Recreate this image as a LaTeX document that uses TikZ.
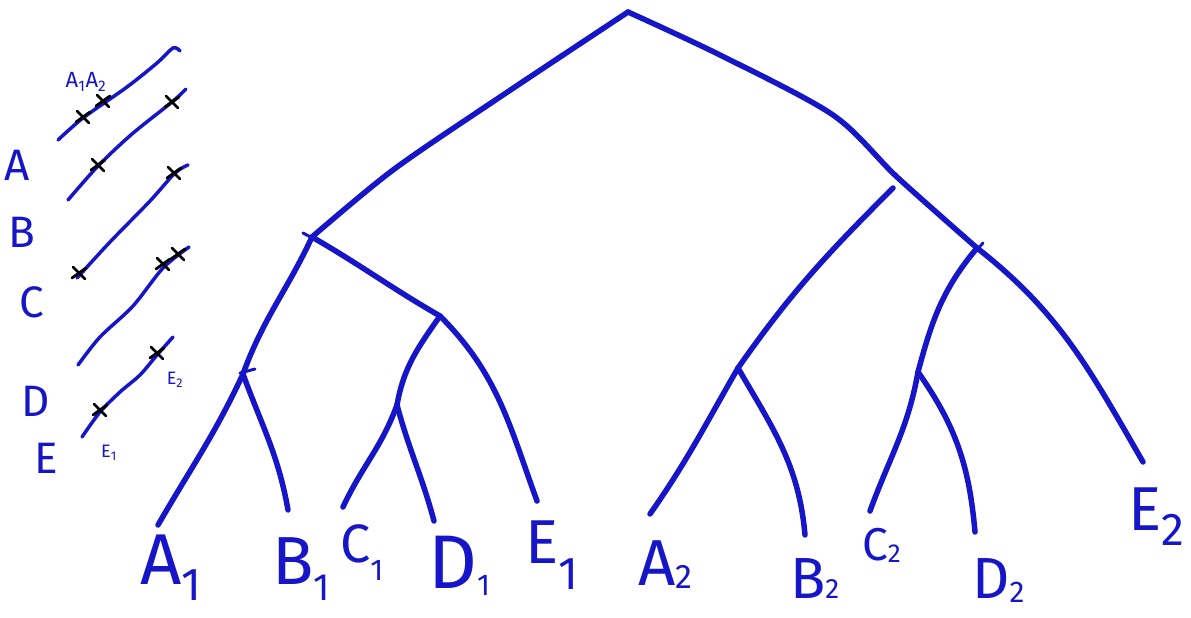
\documentclass[tikz,border=0pt]{standalone}
\usepackage{fontspec}
\setmainfont{Fira Sans}
\definecolor{pen}{RGB}{22,22,200}
\begin{document}
\begin{tikzpicture}[x=1pt, y=-1pt, line cap=round, line join=round,
    branch/.style={draw=pen, line width=5.5pt},
    strand/.style={draw=pen, line width=3.5pt},
    cross/.style={draw=black, line width=2.8pt},
    leaf/.style={text=pen, anchor=base west, inner sep=0pt},
    locus/.style={text=pen, inner sep=0pt, font=\fontsize{44}{44}\selectfont},
    tag/.style={text=pen, inner sep=0pt, font=\fontsize{22}{22}\selectfont}]
    \useasboundingbox (0,0) rectangle (1191,618);

    % Left: the five chromosome strands with their cut marks
    \draw[strand] plot[smooth] coordinates {(58,140) (83,118) (127,87) (157,63) (173,48) (180,51)};
    \draw[strand] plot[smooth] coordinates {(68,200) (98,166) (132,134) (172,102) (186,89)};
    \draw[strand] plot[smooth] coordinates {(77,278) (110,242) (150,201) (175,173) (188,165)};
    \draw[strand] plot[smooth] coordinates {(78,365) (100,337) (133,306) (163,268) (189,247)};
    \draw[strand] plot[smooth] coordinates {(82,437) (100,412) (120,392) (140,375) (157,355) (173,337)};
    \foreach \x/\y in {83/117, 103/101, 98/165, 172/102, 79/273, 174/173,
        163/264, 178/254, 100/410, 157/353} {
        \draw[cross] (\x-6,\y-6) -- (\x+6,\y+6) (\x-7,\y+5) -- (\x+7,\y-5);
    }
    \node[tag] (cutA) at (86,82) {A\textsubscript{1}A\textsubscript{2}};
    \node[tag, font=\fontsize{18}{18}\selectfont] (cutE2) at (175,380) {E\textsubscript{2}};
    \node[tag, font=\fontsize{18}{18}\selectfont] (cutE1) at (109,453) {E\textsubscript{1}};
    \foreach \n/\x/\y in {A/17/165, B/22/232, C/32/302, D/36/401, E/46/458} {
        \node[locus] (loc\n) at (\x,\y) {\n};
    }

    % Tree: branching points
    \coordinate (root) at (628,12);
    \coordinate (L) at (312,237);
    \coordinate (LL) at (243,374);
    \coordinate (LR) at (440,316);
    \coordinate (LRL) at (397,405);
    \coordinate (R) at (977,248);
    \coordinate (RL) at (918,372);
    \coordinate (Mtop) at (893,188);
    \coordinate (M) at (738,368);

    % Tree: leaf ends
    \foreach \n/\x/\y in {A1/158/525, B1/288/510, C1/343/507, D1/434/521, E1/537/501,
        A2/650/514, B2/805/535, C2/870/511, D2/975/532, E2/1143/462} {
        \coordinate (end\n) at (\x,\y);
    }

    % Tree: branches
    \draw[branch] plot[smooth] coordinates {(root) (500,97) (393,170) (L)};
    \draw[branch] plot[smooth] coordinates {(root) (720,55) (833,115) (897,177) (R)};
    \draw[branch] (L) to[out=-115,in=70] (LL);
    \draw[branch] (L) to[out=-30,in=150] (LR);
    \draw[branch] (LL) to[out=-115,in=60] (endA1);
    \draw[branch] (LL) to[out=-70,in=100] (endB1);
    \draw[branch] (LR) to[out=-125,in=80] (LRL);
    \draw[branch] (LR) to[out=-45,in=110] (endE1);
    \draw[branch] (LRL) to[out=-110,in=65] (endC1);
    \draw[branch] (LRL) to[out=-75,in=105] (endD1);
    \draw[branch] (Mtop) to[out=-135,in=55] (M);
    \draw[branch] (M) to[out=-120,in=55] (endA2);
    \draw[branch] (M) to[out=-60,in=95] (endB2);
    \draw[branch] (R) to[out=-130,in=75] (RL);
    \draw[branch] (RL) to[out=-100,in=70] (endC2);
    \draw[branch] (RL) to[out=-55,in=95] (endD2);
    \draw[branch] (R) to[out=-38,in=120] (endE2);

    % Small ticks at the junctions
    \draw[branch, line width=3pt] (303,233) -- (318,241);
    \draw[branch, line width=3pt] (240,373) -- (255,369);
    \draw[branch, line width=3pt] (970,258) -- (983,243);

    % Leaf labels: name/letter/digit/x/y/letter size/digit size/digit drop
    \foreach \n/\ltr/\dig/\x/\y/\sz/\ssz/\dr in {
        A1/A/1/140/584/72/46/16, B1/B/1/272/584/68/38/16,
        C1/C/1/340/562/54/30/18, D1/D/1/428/588/76/30/7,
        E1/E/1/525/563/62/46/26, A2/A/2/638/585/65/34/3,
        B2/B/2/790/598/58/28/0, C2/C/2/862/560/46/26/2,
        D2/D/2/972/598/58/30/4, E2/E/2/1128/530/62/46/15%
    }{%
        \node[leaf, font=\fontsize{\sz}{\sz}\selectfont] (\n) at (\x,\y)
            {\ltr\raisebox{-\dr pt}{\fontsize{\ssz}{\ssz}\selectfont\dig}};
    }
\end{tikzpicture}
\end{document}
